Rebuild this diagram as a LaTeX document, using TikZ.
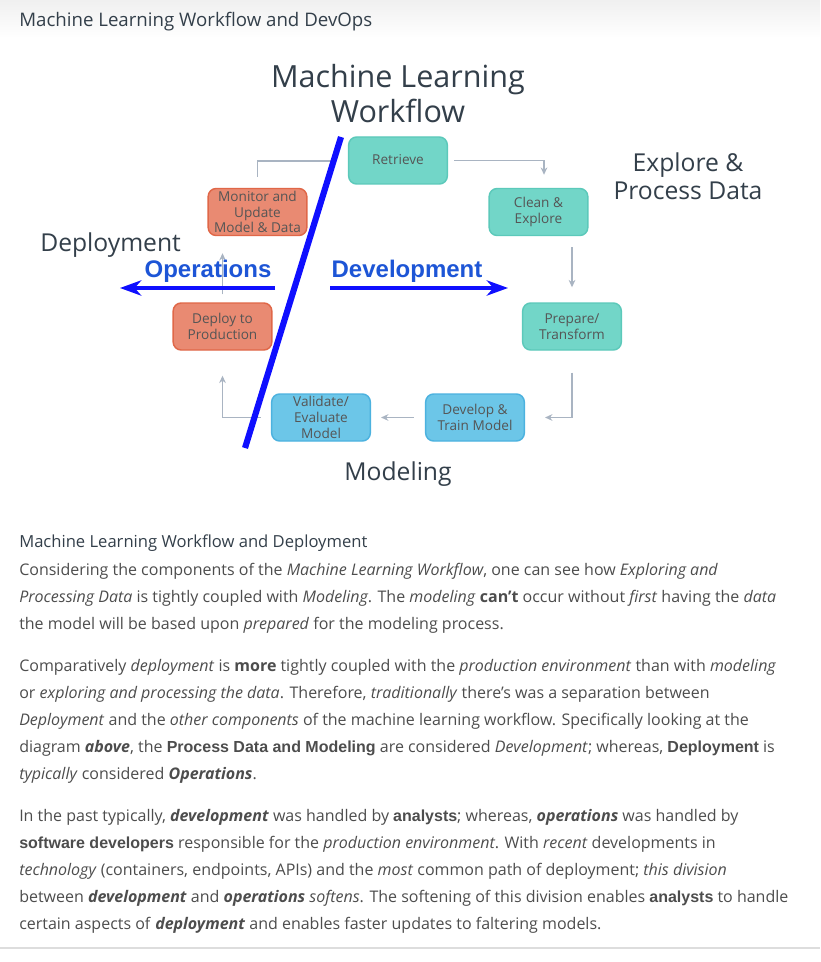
\documentclass[tikz,border=0pt]{standalone}
\usepackage{fontspec}
\setmainfont{Open Sans}
\newfontfamily\arialfam{Liberation Sans}
\usetikzlibrary{arrows.meta,calc}
\definecolor{hdr}{HTML}{333F4A}
\definecolor{para}{HTML}{4D4D4D}
\definecolor{tealfill}{HTML}{72D6C8}
\definecolor{tealdraw}{HTML}{5CC9BA}
\definecolor{salfill}{HTML}{E98A72}
\definecolor{saldraw}{HTML}{E06748}
\definecolor{skyfill}{HTML}{6CC6E8}
\definecolor{skydraw}{HTML}{4CB2DF}
\definecolor{conn}{HTML}{A9B4C2}
\definecolor{slash}{HTML}{0F0FFF}
\definecolor{devtext}{HTML}{1D55D6}
\definecolor{boxtext}{HTML}{555555}
\definecolor{rulegray}{HTML}{DDDDDD}
\newcommand{\bi}[1]{\textbf{\textit{#1}}}
\newcommand{\ab}[1]{{\arialfam\bfseries #1}}
\tikzset{
  wfbox/.style={draw, line width=1.1pt, rounded corners=6pt, minimum width=74pt,
    minimum height=35.25pt, align=center, inner sep=0pt, text=boxtext,
    font=\fontsize{10.2}{11.8}\selectfont},
  tealbox/.style={wfbox, fill=tealfill, draw=tealdraw},
  salbox/.style={wfbox, fill=salfill, draw=saldraw},
  skybox/.style={wfbox, fill=skyfill, draw=skydraw},
  connline/.style={draw=conn, line width=0.9pt},
  connarrow/.style={connline, -{Stealth[length=5.5pt,width=5pt]}},
  bigarrow/.style={draw=slash, line width=2.4pt, -{Stealth[length=16pt,width=11.5pt,inset=5pt]}},
  bigtext/.style={text=hdr, font=\fontsize{18.5}{22}\selectfont, inner sep=0pt},
  devlabel/.style={text=devtext, font=\fontsize{18}{22}\arialfam\bfseries\selectfont, inner sep=0pt},
  paraline/.style={anchor=base west, inner sep=0pt, text=para, font=\fontsize{12}{14}\selectfont},
}
\begin{document}
\begin{tikzpicture}[x=0.75pt,y=-0.75pt]
\useasboundingbox (0,0) rectangle (820,962);
\fill[white] (0,0) rectangle (820,962);
\shade[top color=black!6, bottom color=white] (0,0) rectangle (820,38);
\node[anchor=base west, inner sep=0pt, text=hdr, font=\fontsize{14}{16}\selectfont] (pagetitle) at (19,27) {Machine Learning Workflow and DevOps};

% diagram title and area labels
\node[anchor=base, bigtext, font=\fontsize{22.9}{27}\selectfont] (mlw1) at (398,88) {Machine Learning};
\node[anchor=base, bigtext, font=\fontsize{22.9}{27}\selectfont] (mlw2) at (398,123) {Workflow};
\node[anchor=base, bigtext] (explore1) at (688,171.5) {Explore \&};
\node[anchor=base, bigtext] (explore2) at (688,200) {Process Data};
\node[anchor=base west, bigtext] (deploylbl) at (40,252) {Deployment};
\node[anchor=base, bigtext] (modeling) at (398,480) {Modeling};

% boxes
\node[tealbox] (retrieve) at (398,160.5) {\raisebox{2pt}{Retrieve}};
\node[tealbox] (clean) at (538.5,212) {Clean \&\\Explore};
\node[tealbox] (prepare) at (572,326.5) {Prepare/\\Transform};
\node[skybox] (develop) at (475,417.5) {Develop \&\\Train Model};
\node[skybox] (validate) at (321,417.5) {Validate/\\Evaluate\\Model};
\node[salbox] (deploy) at (222.5,326.5) {Deploy to\\Production};
\node[salbox] (monitor) at (257.5,212) {Monitor and\\Update\\Model \& Data};

% connectors
\draw[connarrow] ($(retrieve.east)+(6,0)$) -| ($(clean.north)+(5.5,-13)$);
\draw[connarrow] ($(prepare.north|-clean.south)+(0,11)$) -- ($(prepare.north)+(0,-15)$);
\draw[connarrow] ($(prepare.south)+(0,22)$) |- ($(develop.east)+(20,0)$);
\draw[connarrow] ($(develop.west)+(-11,0)$) -- ($(validate.east)+(10,0)$);
\draw[connarrow] ($(validate.west)+(-10,0)$) -| ($(deploy.south)+(0,25)$);
\draw[connarrow] ($(deploy.north)+(0,-8)$) -- ($(deploy.north|-monitor.south)+(0,17)$);
\coordinate (slashcross) at (333,161);
\draw[connline] ($(monitor.north)+(0,-11)$) |- (slashcross);

% Operations / Development
\node[anchor=base, devlabel] (opslbl) at (208,277) {Operations};
\node[anchor=base, devlabel] (devlbl) at (407,277) {Development};
\coordinate (opsstart) at (275,288);
\coordinate (opsend) at (120,288);
\coordinate (devstart) at (330,288);
\coordinate (devend) at (508,288);
\draw[bigarrow] (opsstart) -- (opsend);
\draw[bigarrow] (devstart) -- (devend);

% dividing slash
\coordinate (slashtop) at (341,137);
\coordinate (slashbot) at (245,448);
\draw[draw=slash, line width=4.6pt] (slashtop) -- (slashbot);

% text
\node[paraline, font=\fontsize{12.45}{14}\selectfont, text=hdr] (p0) at (19,547) {Machine Learning Workflow and Deployment};
\node[paraline] (p1) at (19,575) {Considering the components of the \textit{Machine Learning Workflow}, one can see how \textit{Exploring and}};
\node[paraline] (p2) at (19,602) {\textit{Processing Data} is tightly coupled with \textit{Modeling}. The \textit{modeling} \textbf{can’t} occur without \textit{first} having the \textit{data}};
\node[paraline] (p3) at (19,629) {the model will be based upon \textit{prepared} for the modeling process.};
\node[paraline] (p4) at (19,671) {Comparatively \textit{deployment} is \textbf{more} tightly coupled with the \textit{production environment} than with \textit{modeling}};
\node[paraline] (p5) at (19,698) {or \textit{exploring and processing the data}. Therefore, \textit{traditionally} there’s was a separation between};
\node[paraline] (p6) at (19,725) {\textit{Deployment} and the \textit{other components} of the machine learning workflow. Specifically looking at the};
\node[paraline] (p7) at (19,752) {diagram \bi{above}, the \ab{Process Data and Modeling} are considered \textit{Development}; whereas, \ab{Deployment} is};
\node[paraline] (p8) at (19,779) {\textit{typically} considered \bi{Operations}.};
\node[paraline] (p9) at (19,821) {In the past typically, \bi{development} was handled by \ab{analysts}; whereas, \bi{operations} was handled by};
\node[paraline] (p10) at (19,848) {\ab{software developers} responsible for the \textit{production environment}. With \textit{recent} developments in};
\node[paraline] (p11) at (19,875) {\textit{technology} (containers, endpoints, APIs) and the \textit{most} common path of deployment; \textit{this division}};
\node[paraline] (p12) at (19,902) {between \bi{development} and \bi{operations} \textit{softens}. The softening of this division enables \ab{analysts} to handle};
\node[paraline] (p13) at (19,929) {certain aspects of \bi{deployment} and enables faster updates to faltering models.};
\draw[rulegray, line width=1.1pt] (0,948) -- (820,948);
\end{tikzpicture}
\end{document}
